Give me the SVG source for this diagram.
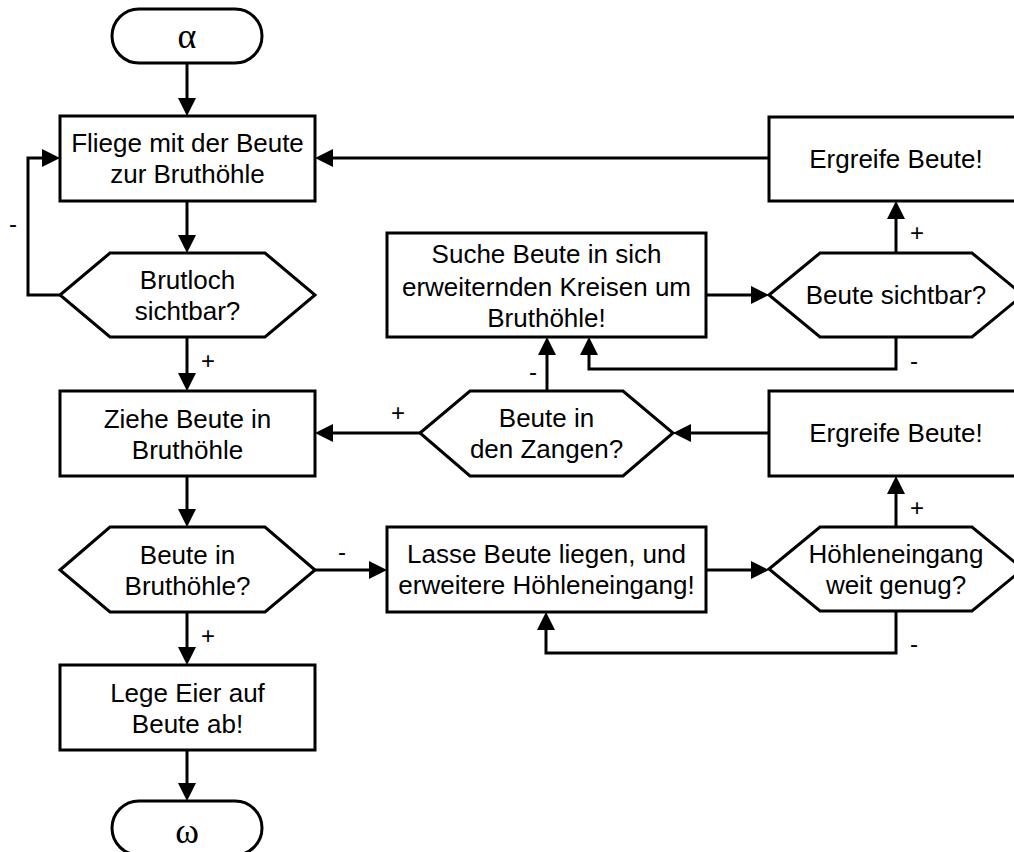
<svg xmlns="http://www.w3.org/2000/svg" width="1014" height="852" viewBox="0 0 1014 852">
<style>
.shape{fill:#fff;stroke:#000;stroke-width:3;stroke-linejoin:miter}
.term{fill:#fff;stroke:#000;stroke-width:3}
.t{font-family:"Liberation Sans",Arial,sans-serif;font-size:26px;fill:#000;text-anchor:middle}
.g{font-family:"Liberation Serif","Times New Roman",serif;font-size:36px;fill:#000;text-anchor:middle}
.lbl{font-family:"Liberation Sans",Arial,sans-serif;font-size:24px;fill:#000;text-anchor:middle}
.c{fill:none;stroke:#000;stroke-width:3;stroke-linejoin:miter;marker-end:url(#ah)}
</style>
<defs>
<marker id="ah" markerUnits="userSpaceOnUse" markerWidth="18" markerHeight="18" refX="14" refY="9" orient="auto">
<path d="M0,0 L18,9 L0,18 Z" fill="#000"/>
</marker>
</defs>
<rect width="1014" height="852" fill="#fff"/>
<g id="connectors">
<path class="c" d="M187,63 V112"/>
<path class="c" d="M187,201 V249"/>
<path class="c" d="M60,295 H28 V158 H56"/>
<path class="c" d="M187,337 V387"/>
<path class="c" d="M187,476 V523"/>
<path class="c" d="M187,612 V661"/>
<path class="c" d="M187,750 V797"/>
<path class="c" d="M315,570 H383"/>
<path class="c" d="M706,570 H765"/>
<path class="c" d="M896,527 V480"/>
<path class="c" d="M896,612 V653 H546 V616"/>
<path class="c" d="M769,433 H677"/>
<path class="c" d="M420,433 H319"/>
<path class="c" d="M547,391 V341"/>
<path class="c" d="M706,295 H765"/>
<path class="c" d="M896,253 V205"/>
<path class="c" d="M896,337 V369 H589 V341"/>
<path class="c" d="M769,158 H319"/>
<text class="lbl" x="13" y="232">-</text>
<text class="lbl" x="208" y="369">+</text>
<text class="lbl" x="208" y="644">+</text>
<text class="lbl" x="342" y="560">-</text>
<text class="lbl" x="398" y="421">+</text>
<text class="lbl" x="533" y="380">-</text>
<text class="lbl" x="917" y="241">+</text>
<text class="lbl" x="914" y="369">-</text>
<text class="lbl" x="917" y="516">+</text>
<text class="lbl" x="914" y="652">-</text>
</g>
<g id="start">
<rect class="term" x="112" y="9" width="150" height="54" rx="27" ry="27"/>
<text class="g" x="187" y="48">α</text>
</g>
<g id="fliege">
<rect class="shape" x="60" y="116" width="255" height="85"/>
<text class="t" x="187.5" y="152">Fliege mit der Beute</text>
<text class="t" x="187.5" y="183">zur Bruthöhle</text>
</g>
<g id="brutloch">
<polygon class="shape" points="60,295 110,253 265,253 315,295 265,337 110,337"/>
<text class="t" x="187.5" y="289">Brutloch</text>
<text class="t" x="187.5" y="320">sichtbar?</text>
</g>
<g id="ziehe">
<rect class="shape" x="60" y="391" width="255" height="85"/>
<text class="t" x="187.5" y="428">Ziehe Beute in</text>
<text class="t" x="187.5" y="459">Bruthöhle</text>
</g>
<g id="beute-bruthoehle">
<polygon class="shape" points="60,570 110,527 265,527 315,570 265,612 110,612"/>
<text class="t" x="187.5" y="564">Beute in</text>
<text class="t" x="187.5" y="595">Bruthöhle?</text>
</g>
<g id="lege">
<rect class="shape" x="60" y="665" width="255" height="85"/>
<text class="t" x="187.5" y="702">Lege Eier auf</text>
<text class="t" x="187.5" y="733">Beute ab!</text>
</g>
<g id="end">
<rect class="term" x="112" y="801" width="150" height="54" rx="27" ry="27"/>
<text class="g" x="187" y="843">ω</text>
</g>
<g id="suche">
<rect class="shape" x="387" y="233" width="319" height="104"/>
<text class="t" x="546.5" y="263">Suche Beute in sich</text>
<text class="t" x="546.5" y="296">erweiternden Kreisen um</text>
<text class="t" x="546.5" y="327">Bruthöhle!</text>
</g>
<g id="zangen">
<polygon class="shape" points="420,433 470,391 623,391 673,433 623,476 470,476"/>
<text class="t" x="546.5" y="427">Beute in</text>
<text class="t" x="546.5" y="458">den Zangen?</text>
</g>
<g id="lasse">
<rect class="shape" x="387" y="527" width="319" height="85"/>
<text class="t" x="546.5" y="563">Lasse Beute liegen, und</text>
<text class="t" x="546.5" y="594">erweitere Höhleneingang!</text>
</g>
<g id="ergreife1">
<rect class="shape" x="769" y="117" width="255" height="84"/>
<text class="t" x="896" y="168">Ergreife Beute!</text>
</g>
<g id="sichtbar">
<polygon class="shape" points="769,295 820,253 972,253 1023,295 972,337 820,337"/>
<text class="t" x="896" y="304">Beute sichtbar?</text>
</g>
<g id="ergreife2">
<rect class="shape" x="769" y="391" width="255" height="85"/>
<text class="t" x="896" y="442">Ergreife Beute!</text>
</g>
<g id="hoehleneingang">
<polygon class="shape" points="769,569 820,527 972,527 1023,569 972,611 820,611"/>
<text class="t" x="896" y="563">Höhleneingang</text>
<text class="t" x="896" y="594">weit genug?</text>
</g>
</svg>
